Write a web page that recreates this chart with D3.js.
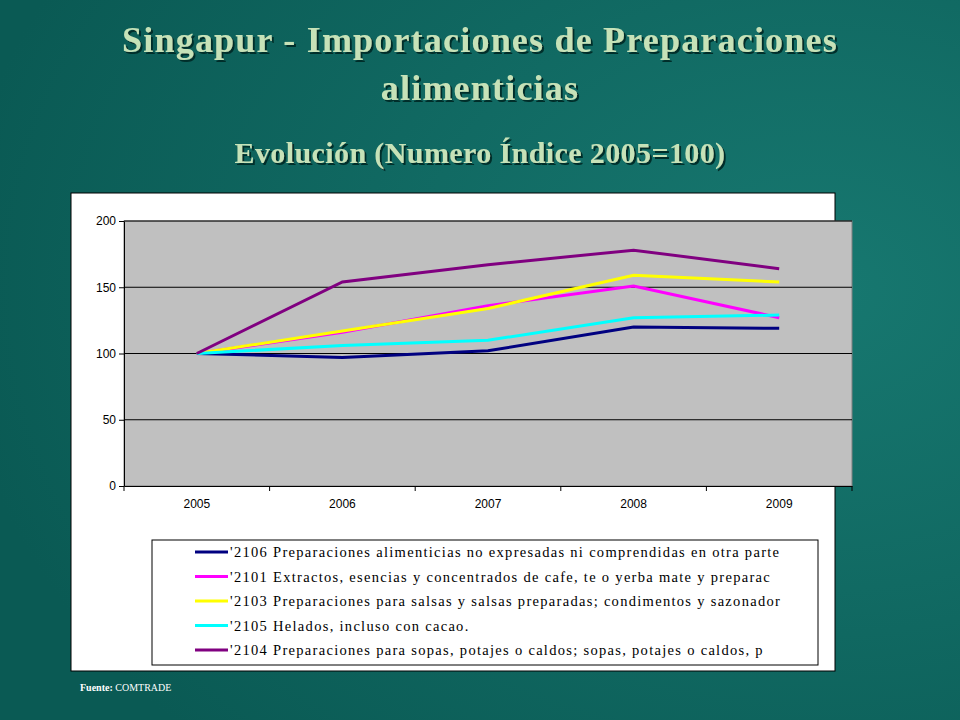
<!DOCTYPE html>
<html><head><meta charset="utf-8">
<script src="https://cdn.jsdelivr.net/npm/d3@7"></script>
<style>body{margin:0;background:#0c5f59}</style>
</head><body>
<svg id="c" width="960" height="720"></svg>
<script>
const years = ["2005","2006","2007","2008","2009"]
const names = [
  "'2106 Preparaciones alimenticias no expresadas ni comprendidas en otra parte",
  "'2101 Extractos, esencias y concentrados de cafe, te o yerba mate y preparac",
  "'2103 Preparaciones para salsas y salsas preparadas; condimentos y sazonador",
  "'2105 Helados, incluso con cacao.",
  "'2104 Preparaciones para sopas, potajes o caldos; sopas, potajes o caldos, p"
]
const colors = ["#000080","#ff00ff","#ffff00","#00ffff","#800080"]
const s2106 = [100, 97, 102, 120, 119]
const s2101 = [100, 116, 136, 151, 127]
const s2103 = [100, 117, 134, 159, 154]
const s2105 = [100, 106, 110, 127, 129]
const s2104 = [100, 154, 167, 178, 164]
const series = [s2106, s2101, s2103, s2105, s2104]
const yTicks = [0, 50, 100, 150, 200]

const svg = d3.select("#c")
const defs = svg.append("defs")
const g = defs.append("radialGradient").attr("id","bg").attr("cx","85%").attr("cy","40%").attr("r","90%")
g.append("stop").attr("offset","0").attr("stop-color","#177870")
g.append("stop").attr("offset","1").attr("stop-color","#0a5a54")
defs.append("filter").attr("id","sh").append("feDropShadow")
  .attr("dx",2).attr("dy",2).attr("stdDeviation",0.6).attr("flood-color","#062e2a")
svg.append("rect").attr("width",960).attr("height",720).attr("fill","url(#bg)")

const title = (txt, y, size, ls) => {
  svg.append("text").attr("x",480).attr("y",y).attr("text-anchor","middle")
    .attr("font-family","Liberation Serif").attr("font-weight","bold").attr("font-size",size)
    .attr("letter-spacing",ls).attr("filter","url(#sh)")
    .attr("fill","#c6e2b8").text(txt)
}
title("Singapur - Importaciones de Preparaciones", 52, 36, 1.2)
title("alimenticias", 100, 36, 1.2)
title("Evolución (Numero Índice 2005=100)", 163, 30, 0.4)

svg.append("rect").attr("x",71).attr("y",193).attr("width",764).attr("height",478)
  .attr("fill","#fff").attr("stroke","#000")

const x = d3.scaleBand().domain(years).range([124,852])
const y = d3.scaleLinear().domain([0,200]).range([486,221])
svg.append("rect").attr("x",124).attr("y",221).attr("width",728).attr("height",265)
  .attr("fill","#c0c0c0").attr("stroke","#808080")
svg.append("g").selectAll("line").data(yTicks.slice(1)).join("line")
  .attr("x1",124).attr("x2",852).attr("y1",d=>y(d)).attr("y2",d=>y(d)).attr("stroke","#000")

const ya = svg.append("g").attr("transform","translate(124,0)")
  .call(d3.axisLeft(y).tickValues(yTicks).tickSize(5).tickSizeOuter(0))
const xa = svg.append("g").attr("transform","translate(0,486)")
  .call(d3.axisBottom(x).tickSize(0).tickSizeOuter(0))
xa.selectAll("text").attr("dy","1.6em")
xa.append("g").selectAll("line").data(years.concat(["end"])).join("line")
  .attr("x1",(d,i)=>124+i*x.bandwidth()).attr("x2",(d,i)=>124+i*x.bandwidth())
  .attr("y1",0).attr("y2",5).attr("stroke","#000")
;[ya,xa].forEach(a=>{a.selectAll("text").attr("font-family","Liberation Sans").attr("font-size",12).attr("fill","#000")
  a.select(".domain").attr("stroke","#000")})

const line = d3.line().x((d,i)=>x(years[i])+x.bandwidth()/2).y(d=>y(d))
svg.append("g").selectAll("path").data(series).join("path")
  .attr("d",line).attr("fill","none").attr("stroke",(d,i)=>colors[i]).attr("stroke-width",3)

const lg = svg.append("g")
lg.append("rect").attr("x",152).attr("y",540).attr("width",666).attr("height",125).attr("fill","#fff").attr("stroke","#000")
names.forEach((n,i)=>{
  const yy = 552 + i*24.5
  lg.append("line").attr("x1",195).attr("x2",228).attr("y1",yy).attr("y2",yy).attr("stroke",colors[i]).attr("stroke-width",3)
  lg.append("text").attr("x",230).attr("y",yy+5).attr("font-family","Liberation Serif").attr("font-size",14.5)
    .attr("letter-spacing","1.3").text(n)
})

svg.append("text").attr("x",80).attr("y",691).attr("font-family","Liberation Serif").attr("font-size",10)
  .attr("fill","#fff").html('<tspan font-weight="bold">Fuente:</tspan> COMTRADE')
</script>
</body></html>
